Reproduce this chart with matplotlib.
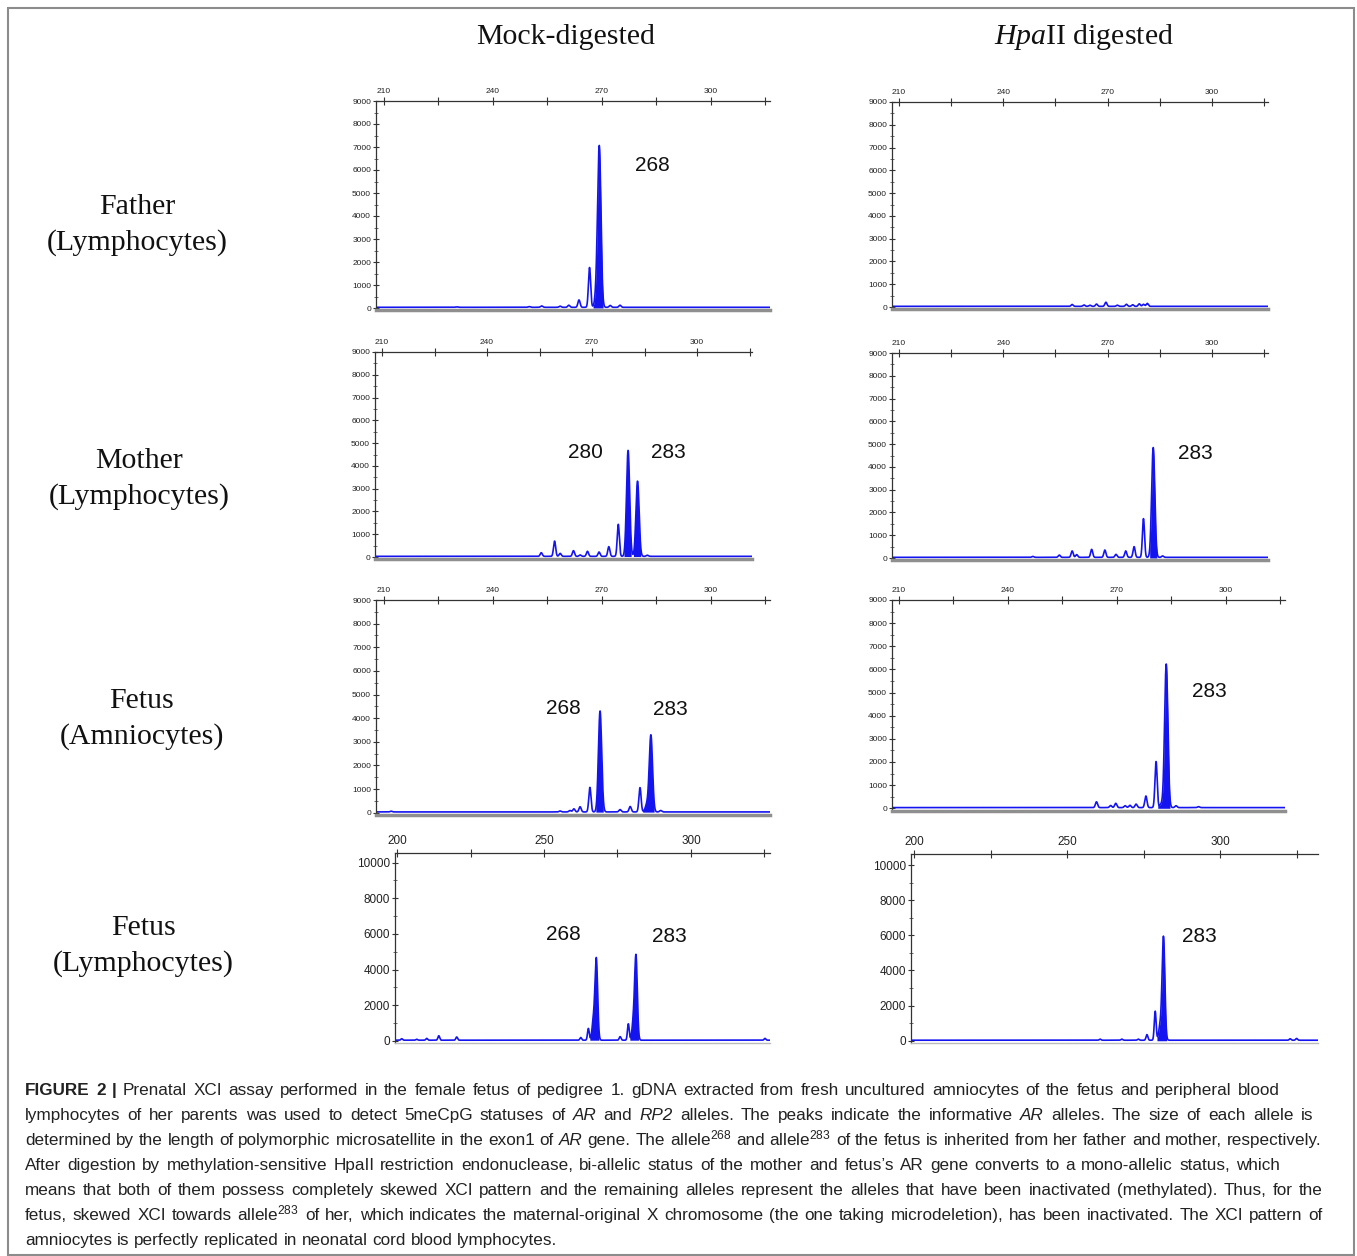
import re
import numpy as np
import matplotlib
matplotlib.use("Agg")
import matplotlib.pyplot as plt
from matplotlib.patches import Rectangle
from matplotlib.ticker import FixedLocator, FuncFormatter, MultipleLocator

plt.rcParams['font.family'] = ['Liberation Sans', 'DejaVu Sans']
plt.rcParams['mathtext.fontset'] = 'custom'
plt.rcParams['mathtext.rm'] = 'Liberation Sans'
plt.rcParams['mathtext.it'] = 'Liberation Serif:italic'
plt.rcParams['mathtext.default'] = 'regular'

W, H = 1357, 1256
BLUE = '#1414f0'

# ---- peak data (size in bp, height in RFU) ----
father_mock_pos = [230.0, 250.0, 253.4, 258.5, 260.9, 263.7, 266.6, 268.6, 269.3, 272.3, 275.0]
father_mock_hgt = [20, 30, 60, 50, 90, 320, 1730, 700, 6820, 80, 90]
father_mock_fill = [0, 0, 0, 0, 0, 0, 0, 1, 1, 0, 0]
father_mock_labels = ["268"]

father_hpa_pos = [259.8, 263.2, 264.9, 266.8, 269.5, 272.8, 275.4, 277.2, 279.1, 280.3, 281.4]
father_hpa_hgt = [80, 60, 50, 100, 180, 50, 90, 70, 110, 90, 130]
father_hpa_fill = [0] * 11
father_hpa_labels = []

mother_mock_pos = [255.5, 259.3, 260.9, 264.7, 266.6, 268.7, 272.0, 274.8, 277.5, 280.3, 283.0, 285.8]
mother_mock_hgt = [160, 670, 130, 250, 60, 220, 190, 425, 1405, 4650, 3300, 50]
mother_mock_fill = [0, 0, 0, 0, 0, 0, 0, 0, 0, 1, 1, 0]
mother_mock_labels = ["280", "283"]

mother_hpa_pos = [248.5, 256.1, 259.8, 261.1, 265.4, 269.2, 272.4, 275.2, 277.6, 280.3, 283.1, 285.8]
mother_hpa_hgt = [40, 100, 280, 120, 350, 320, 130, 280, 470, 1700, 4820, 60]
mother_hpa_fill = [0, 0, 0, 0, 0, 0, 0, 0, 0, 0, 1, 0]
mother_hpa_labels = ["283"]

amnio_mock_pos = [212.0, 258.5, 261.2, 262.3, 264.0, 266.7, 269.5, 275.0, 277.8, 280.5, 282.4, 283.5, 286.2]
amnio_mock_hgt = [30, 40, 60, 130, 220, 1040, 4270, 100, 230, 1030, 300, 3250, 60]
amnio_mock_fill = [0, 0, 0, 0, 0, 0, 1, 0, 0, 0, 1, 1, 0]
amnio_mock_labels = ["268", "283"]

amnio_hpa_pos = [264.4, 268.3, 269.7, 272.3, 273.6, 275.3, 278.0, 280.8, 282.3, 283.6, 286.3, 292.5]
amnio_hpa_hgt = [250, 90, 185, 80, 100, 150, 500, 1990, 150, 6200, 80, 40]
amnio_hpa_fill = [0, 0, 0, 0, 0, 0, 0, 0, 1, 1, 0, 0]
amnio_hpa_labels = ["283"]

lymph_mock_pos = [201.6, 206.7, 210.1, 214.2, 220.3, 262.5, 265.1, 266.8, 267.8, 275.9, 278.7, 280.4, 281.3, 325.2]
lymph_mock_hgt = [80, 50, 100, 250, 180, 150, 660, 1070, 4550, 200, 920, 980, 4680, 100]
lymph_mock_fill = [0, 0, 0, 0, 0, 0, 0, 1, 1, 0, 0, 1, 1, 0]
lymph_mock_labels = ["268", "283"]

lymph_hpa_pos = [260.8, 267.9, 273.3, 276.1, 278.8, 280.4, 281.5, 322.9, 325.0]
lymph_hpa_hgt = [60, 60, 60, 320, 1650, 800, 5880, 80, 100]
lymph_hpa_fill = [0, 0, 0, 0, 0, 1, 1, 0, 0]
lymph_hpa_labels = ["283"]

col_titles = ["Mock-digested", r"$\mathit{Hpa}$II digested"]
row_titles = ["Father\n(Lymphocytes)", "Mother\n(Lymphocytes)",
              "Fetus\n(Amniocytes)", "Fetus\n(Lymphocytes)"]

caption_lines = [
    "**FIGURE** **2** **|** Prenatal XCI assay performed in the female fetus of pedigree 1. gDNA extracted from fresh uncultured amniocytes of the fetus and peripheral blood",
    "lymphocytes of her parents was used to detect 5meCpG statuses of *AR* and *RP2* alleles. The peaks indicate the informative *AR* alleles. The size of each allele is",
    "determined by the length of polymorphic microsatellite in the exon1 of *AR* gene. The allele^268 and allele^283 of the fetus is inherited from her father and mother, respectively.",
    "After digestion by methylation-sensitive HpaII restriction endonuclease, bi-allelic status of the mother and fetus\u2019s AR gene converts to a mono-allelic status, which",
    "means that both of them possess completely skewed XCI pattern and the remaining alleles represent the alleles that have been inactivated (methylated). Thus, for the",
    "fetus, skewed XCI towards allele^283 of her, which indicates the maternal-original X chromosome (the one taking microdeletion), has been inactivated. The XCI pattern of",
    "amniocytes is perfectly replicated in neonatal cord blood lymphocytes.",
]
caption_right = [1280, 1313, 1322, 1280, 1323, 1323, None]

# ---- layout: pixel box (left, top, right, bottom), axis limits, label spots ----
panels = [
    dict(pos=father_mock_pos, hgt=father_mock_hgt, fill=father_mock_fill, labels=father_mock_labels,
         box=(376, 101, 770, 310.3), xlim=(207.8, 316.3), ylim=(-100, 9000), big=False,
         spots=[(283.8, 6174)]),
    dict(pos=father_hpa_pos, hgt=father_hpa_hgt, fill=father_hpa_fill, labels=father_hpa_labels,
         box=(892, 102, 1268, 309.3), xlim=(208.0, 316.1), ylim=(-100, 9000), big=False,
         spots=[]),
    dict(pos=mother_mock_pos, hgt=mother_mock_hgt, fill=mother_mock_fill, labels=mother_mock_labels,
         box=(375, 352, 752, 559.3), xlim=(208.0, 315.7), ylim=(-100, 9000), big=False,
         spots=[(268.0, 4609), (291.7, 4609)]),
    dict(pos=mother_hpa_pos, hgt=mother_hpa_hgt, fill=mother_hpa_fill, labels=mother_hpa_labels,
         box=(892, 353, 1268, 560.3), xlim=(208.0, 316.1), ylim=(-100, 9000), big=False,
         spots=[(295.1, 4609)]),
    dict(pos=amnio_mock_pos, hgt=amnio_mock_hgt, fill=amnio_mock_fill, labels=amnio_mock_labels,
         box=(376, 600, 770, 815), xlim=(207.8, 316.3), ylim=(-100, 9000), big=False,
         spots=[(259.3, 4394), (288.8, 4350)]),
    dict(pos=amnio_hpa_pos, hgt=amnio_hpa_hgt, fill=amnio_hpa_fill, labels=amnio_hpa_labels,
         box=(892, 600, 1285, 810.6), xlim=(208.1, 316.3), ylim=(-100, 9000), big=False,
         spots=[(295.4, 5067)]),
    dict(pos=lymph_mock_pos, hgt=lymph_mock_hgt, fill=lymph_mock_fill, labels=lymph_mock_labels,
         box=(395, 852.7, 770, 1042.5), xlim=(199.3, 326.9), ylim=(-100, 10560), big=True,
         spots=[(256.5, 5938), (292.5, 5880)]),
    dict(pos=lymph_hpa_pos, hgt=lymph_hpa_hgt, fill=lymph_hpa_fill, labels=lymph_hpa_labels,
         box=(911, 854, 1318, 1042.5), xlim=(199.0, 332.0), ylim=(-100, 10626), big=True,
         spots=[(293.1, 5960)]),
]

fig = plt.figure(figsize=(W / 100, H / 100), dpi=100)


def draw_panel(p):
    l, t, r, b = p['box']
    ax = fig.add_axes([l / W, 1 - b / H, (r - l) / W, (b - t) / H])
    x = np.linspace(p['xlim'][0], p['xlim'][1], 6000)
    y = np.full_like(x, 30.0)
    mask = np.zeros_like(x, dtype=bool)
    for pos, h, f in zip(p['pos'], p['hgt'], p['fill']):
        s = 0.45 if f else 0.3
        y += h * np.exp(-0.5 * ((x - pos) / s) ** 2)
        if f:
            mask |= np.abs(x - pos) < 2.3 * s
    ax.fill_between(x, 0, y, where=mask, color=BLUE, lw=0)
    ax.plot(x, y, color=BLUE, lw=1.2)
    ax.set_xlim(p['xlim'])
    ax.set_ylim(p['ylim'])

    if p['big']:
        start, step, lab = 200, 25, 50
        ymaj, ymin_, fs = 2000, 1000, 8.5
    else:
        start, step, lab = 210, 15, 30
        ymaj, ymin_, fs = 1000, 500, 6
    xt = np.arange(start, p['xlim'][1], step)
    ax.xaxis.set_major_locator(FixedLocator(xt))
    ax.xaxis.set_major_formatter(FuncFormatter(
        lambda v, _: f"{v:.0f}" if (round(v) - start) % lab == 0 else ""))
    ax.yaxis.set_major_locator(MultipleLocator(ymaj))
    ax.yaxis.set_minor_locator(MultipleLocator(ymin_))
    ax.yaxis.set_major_formatter(FuncFormatter(lambda v, _: f"{v:.0f}" if v >= 0 else ""))

    ax.tick_params(axis='x', which='both', top=True, bottom=False, labeltop=True,
                   labelbottom=False, direction='inout', length=6, width=0.8,
                   color='#333333', pad=1, labelsize=fs, labelcolor='#222222')
    ax.tick_params(axis='y', which='major', direction='inout', length=5, width=0.8,
                   color='#333333', pad=1, labelsize=fs, labelcolor='#222222')
    ax.tick_params(axis='y', which='minor', direction='inout', length=3, width=0.6,
                   color='#555555')

    ax.spines['right'].set_visible(False)
    for side in ('top', 'left'):
        ax.spines[side].set_color('#333333')
        ax.spines[side].set_linewidth(0.9)
    if p['big']:
        ax.spines['bottom'].set_color('#bbbbbb')
        ax.spines['bottom'].set_linewidth(1.0)
    else:
        ax.spines['bottom'].set_color('#8f8f8f')
        ax.spines['bottom'].set_linewidth(2.5)
    ax.set_facecolor('none')

    for txt, (lx, ly) in zip(p['labels'], p['spots']):
        ax.text(lx, ly, txt, ha='center', va='center', fontsize=15, color='#111111')


for p in panels:
    draw_panel(p)

# column and row titles
for txt, cx in zip(col_titles, [566, 1084]):
    fig.text(cx / W, 1 - 37 / H, txt, ha='center', va='center', fontsize=21.5,
             family='Liberation Serif', color='#111111')
for txt, (cx, cy) in zip(row_titles, [(137, 225), (139, 479), (142, 719), (143, 946)]):
    fig.text(cx / W, 1 - cy / H, txt, ha='center', va='center', fontsize=21.5,
             family='Liberation Serif', color='#111111', linespacing=1.4)

# frame round everything
fig.add_artist(Rectangle((8 / W, 1 - 1255 / H), (1354 - 8) / W, (1255 - 8) / H,
                         transform=fig.transFigure, fill=False, ec='#8c8c8c', lw=1.5))

# caption, laid out word by word so each line ends where it does in the figure
renderer = fig.canvas.get_renderer()


def word_style(w):
    if w.startswith('**') and w.endswith('**'):
        return w[2:-2], dict(fontweight='bold')
    if w.startswith('*') and w.endswith('*') and len(w) > 2:
        return w[1:-1], dict(fontstyle='italic')
    return w, {}


fs0 = 12.0
rows = []
for line in caption_lines:
    row = []
    for w in line.split(' '):
        s, kw = word_style(w)
        s = re.sub(r'\^(\d+)', r'$^{\1}$', s)
        row.append(fig.text(0, 0, s, fontsize=fs0, ha='left', va='baseline',
                            color='#222222', **kw))
    rows.append(row)


def space_px(fs):
    return 0.278 * fs * 100 / 72


ratios = []
for row, right in zip(rows, caption_right):
    if right is None:
        continue
    ws = [t.get_window_extent(renderer).width for t in row]
    ratios.append((right - 25) / (sum(ws) + (len(ws) - 1) * space_px(fs0)))
cap_fs = fs0 * min(ratios)

for i, (row, right) in enumerate(zip(rows, caption_right)):
    for t in row:
        t.set_fontsize(cap_fs)
    ws = [t.get_window_extent(renderer).width for t in row]
    gap = space_px(cap_fs) if right is None else (right - 25 - sum(ws)) / (len(ws) - 1)
    xb = 25.0
    yb = 1095 + 25 * i
    for t, w in zip(row, ws):
        t.set_position((xb / W, 1 - yb / H))
        xb += w + gap

fig.savefig('out.png', dpi=100)
